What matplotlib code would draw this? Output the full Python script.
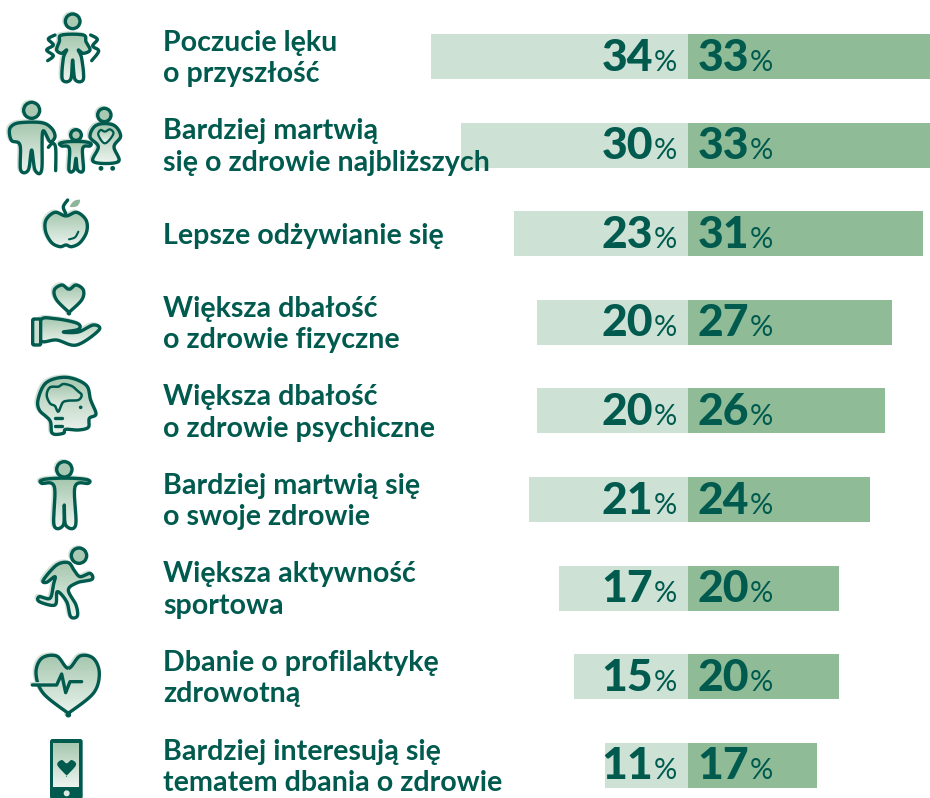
import numpy as np
import matplotlib
matplotlib.use("Agg")
import matplotlib.pyplot as plt
from matplotlib.path import Path
from matplotlib.patches import PathPatch, Circle, FancyBboxPatch

labels = ["Poczucie lęku\no przyszłość", "Bardziej martwią\nsię o zdrowie najbliższych",
          "Lepsze odżywianie się", "Większa dbałość\no zdrowie fizyczne",
          "Większa dbałość\no zdrowie psychiczne", "Bardziej martwią się\no swoje zdrowie",
          "Większa aktywność\nsportowa", "Dbanie o profilaktykę\nzdrowotną",
          "Bardziej interesują się\ntematem dbania o zdrowie"]
left_values = [34, 30, 23, 20, 20, 21, 17, 15, 11]
right_values = [33, 33, 31, 27, 26, 24, 20, 20, 17]

DARK = "#005A4E"
LIGHT_BAR = "#CDE1D4"
MID_BAR = "#90BB97"
SHADOW = "#CFE1D5"
W, H = 930, 798
UNIT = 7.57
ROW0, ROWSTEP = 56.5, 88.6

fig = plt.figure(figsize=(W / 100, H / 100), dpi=100, facecolor="white")
ax = fig.add_axes([0, 0, 1, 1])
ax.set_xlim(-688 / UNIT, (W - 688) / UNIT)
ax.set_ylim((H - ROW0) / ROWSTEP, -ROW0 / ROWSTEP)
ax.axis("off")
rows = np.arange(len(labels))
ax.barh(rows, [-v for v in left_values], height=45 / ROWSTEP, color=LIGHT_BAR, lw=0)
ax.barh(rows, right_values, height=45 / ROWSTEP, color=MID_BAR, lw=0)

for i, (lab, l, r) in enumerate(zip(labels, left_values, right_values)):
    ax.annotate(lab, (0, i), xytext=(163 - 688, -2), textcoords="offset pixels", ha="left", va="center",
                color=DARK, family="Lato", weight="bold", fontsize=20.6, linespacing=1.25)
    for v, xn, xp in ((l, -35, -34), (r, 61, 62)):
        ax.annotate(str(v), (0, i), xytext=(xn, -14), textcoords="offset pixels", ha="right", va="baseline",
                    color=DARK, family="Lato", weight=900, fontsize=32)
        ax.annotate("%", (0, i), xytext=(xp, -14), textcoords="offset pixels", ha="left", va="baseline",
                    color=DARK, family="Lato", weight="normal", fontsize=21)

# --- decorative pictograms, in a pixel-space overlay (coordinates from 3x crops) ---
ov = fig.add_axes([0, 0, 1, 1], facecolor="none")
ov.set_xlim(0, W)
ov.set_ylim(H, 0)
ov.axis("off")
grad = np.linspace(0, 1, 64).reshape(-1, 1)
cmap = matplotlib.colors.LinearSegmentedColormap.from_list("g", ["#A5C7AE", "#EDF4EF"])
LW = 2.4


def smooth(pts, closed=True, n=10):
    p = np.asarray(pts, float)
    if closed:
        p = np.vstack([p[-1], p, p[0], p[1]])
    else:
        p = np.vstack([p[0], p, p[-1]])
    out = []
    for i in range(1, len(p) - 2):
        p0, p1, p2, p3 = p[i - 1], p[i], p[i + 1], p[i + 2]
        for t in np.linspace(0, 1, n, endpoint=False):
            out.append(0.5 * (2 * p1 + (p2 - p0) * t + (2 * p0 - 5 * p1 + 4 * p2 - p3) * t ** 2
                              + (3 * p1 - p0 - 3 * p2 + p3) * t ** 3))
    out.append(p[len(p) - 2])
    return np.array(out)


def z(pts, yo=0):
    return [(x / 3, y / 3 + yo) for x, y in pts]


def shape(pts, yo=0, lw=LW, shadow=True):
    v = smooth(z(pts, yo))
    if shadow:
        ov.add_patch(PathPatch(Path(v + [-1.6, -1.2]), fc=SHADOW, ec=SHADOW, lw=lw, zorder=3))
    pp = PathPatch(Path(v), fc="none", ec="none", zorder=4)
    ov.add_patch(pp)
    x0, x1, y0, y1 = v[:, 0].min(), v[:, 0].max(), v[:, 1].min(), v[:, 1].max()
    im = ov.imshow(grad, extent=(x0, x1, y1, y0), cmap=cmap, aspect="auto", zorder=4)
    im.set_clip_path(pp)
    ov.add_patch(PathPatch(Path(v), fc="none", ec=DARK, lw=lw, joinstyle="round", zorder=5))


def line(pts, yo=0, lw=LW, c=DARK, sm=True):
    v = smooth(z(pts, yo), closed=False) if sm else np.array(z(pts, yo))
    ov.plot(v[:, 0], v[:, 1], color=c, lw=lw, solid_capstyle="round", solid_joinstyle="round", zorder=6)


def head(x, y, r, yo=0, lw=LW):
    xc, yc, rc = x / 3, y / 3 + yo, r / 3
    ov.add_patch(Circle((xc - 1.5, yc - 1), rc, fc=SHADOW, ec=SHADOW, lw=lw, zorder=3))
    ov.add_patch(Circle((xc, yc), rc, fc="#A9C9B2", ec=DARK, lw=lw, zorder=5))


# 1 anxious person
head(218, 64, 22)
shape([(185, 105), (250, 105), (258, 125), (270, 150), (250, 160), (235, 150), (245, 175), (250, 238), (225, 238),
       (218, 180), (212, 238), (187, 238), (190, 175), (200, 150), (185, 160), (170, 150), (178, 125)])
line([(165, 105), (145, 117), (160, 135), (140, 150), (160, 167), (143, 182)])
line([(272, 105), (292, 118), (278, 138), (296, 153), (275, 182)])
# 2 family
head(95, 331, 24)
shape([(60, 368), (125, 368), (155, 385), (165, 410), (150, 425), (128, 395), (125, 510), (105, 510), (95, 450),
       (85, 510), (62, 510), (60, 435), (35, 422), (28, 395), (35, 378)])
line([(145, 442), (158, 430), (167, 445), (167, 512)])
head(228, 405, 16)
shape([(205, 425), (250, 425), (272, 430), (270, 438), (248, 445), (250, 510), (233, 510), (228, 475), (222, 510),
       (207, 510), (208, 445), (185, 438), (180, 430)])
head(313, 345, 20)
shape([(290, 375), (340, 375), (362, 408), (342, 440), (355, 485), (280, 485), (295, 440), (270, 410)])
shape([(315, 395), (330, 388), (340, 402), (315, 430), (295, 405), (302, 390)], shadow=False, lw=1.6)
for fx in (303, 338):
    ov.add_patch(Circle((fx / 3, 505 / 3), 2.4, fc=DARK, ec="none", zorder=6))
# 3 apple
shape([(198, 648), (230, 637), (258, 660), (260, 695), (240, 728), (215, 740), (198, 735), (180, 740), (155, 728),
       (137, 695), (138, 660), (165, 637)])
line([(197, 640), (190, 620), (203, 600)])
ov.add_patch(PathPatch(Path(smooth(z([(210, 620), (222, 603), (240, 600), (232, 618)]))), fc="#8DB59B", ec="none", zorder=5))
line([(207, 718), (225, 712), (235, 695)], lw=1.5)
# 4 heart in hand
shape([(207, 58), (228, 45), (250, 60), (245, 90), (207, 127), (207, 127), (170, 90), (163, 60), (186, 45)], 270)
shape([(122, 150), (165, 146), (232, 160), (235, 178), (190, 186), (235, 186), (280, 165), (297, 180), (230, 225),
       (170, 210), (122, 212)], 270)
ov.add_patch(FancyBboxPatch((98 / 3, 270 + 147 / 3), 24 / 3, 78 / 3, boxstyle="round,pad=0,rounding_size=1.5",
                            fc="#C9DDCF", ec=DARK, lw=LW, zorder=6))
# 5 head / brain
shape([(115, 385), (140, 337), (200, 322), (258, 345), (272, 390), (288, 432), (268, 445), (265, 472), (235, 480),
       (197, 478), (190, 490), (157, 490), (150, 452), (118, 420)], 270)
shape([(140, 375), (150, 352), (175, 350), (190, 342), (215, 348), (232, 362), (245, 375), (235, 390), (205, 392),
       (188, 398), (175, 425), (165, 408), (150, 400)], 270, shadow=False, lw=1.8)
ov.add_patch(Circle((242 / 3, 270 + 412 / 3), 1.8, fc=DARK, ec="none", zorder=6))
line([(165, 445), (187, 445)], 270, sm=False)
line([(165, 468), (187, 468)], 270, sm=False)
# 6 person arms out
head(193, 598, 23, 270)
shape([(125, 630), (165, 625), (225, 625), (265, 630), (265, 640), (225, 650), (227, 765), (197, 765), (193, 705),
       (190, 765), (162, 765), (163, 650), (125, 640)], 270)
# 7 runner
head(237, 77, 23, 530)
shape([(130, 150), (170, 105), (205, 98), (222, 120), (240, 140), (270, 130), (276, 148), (232, 158), (205, 180),
       (228, 225), (232, 258), (212, 260), (200, 215), (172, 185), (165, 225), (118, 215), (118, 200), (150, 205),
       (160, 165), (165, 140), (140, 157)], 530)
# 8 heart with pulse
shape([(205, 415), (240, 378), (280, 385), (298, 430), (280, 490), (205, 550), (205, 550), (130, 490), (108, 430),
       (125, 385), (170, 378)], 530)
ov.plot([92 / 3, 165 / 3], [530 + 458 / 3] * 2, color=SHADOW, lw=2, zorder=5)
line([(97, 465), (170, 465), (185, 432), (197, 488), (210, 455), (245, 455)], 530, sm=False)
# 9 phone
ov.add_patch(FancyBboxPatch((150 / 3, 530 + 627 / 3), 98 / 3, 180 / 3, boxstyle="round,pad=0,rounding_size=2.5",
                            fc=DARK, ec="none", zorder=4))
scr = PathPatch(Path([(160 / 3, 530 + 638 / 3), (238 / 3, 530 + 638 / 3), (238 / 3, 530 + 770 / 3),
                      (160 / 3, 530 + 770 / 3), (160 / 3, 530 + 638 / 3)]), fc="none", ec="none", zorder=5)
ov.add_patch(scr)
im = ov.imshow(grad, extent=(160 / 3, 238 / 3, 530 + 770 / 3, 530 + 638 / 3), cmap=cmap, aspect="auto", zorder=5)
im.set_clip_path(scr)
hv = smooth(z([(200, 700), (215, 690), (228, 705), (200, 737), (200, 737), (172, 705), (185, 690)], 530))
ov.add_patch(PathPatch(Path(hv), fc=DARK, ec="none", zorder=6))
ov.add_patch(Circle((200 / 3, 530 + 790 / 3), 3, fc="#DCE9E0", ec="none", zorder=6))
ov.set_xlim(0, W)
ov.set_ylim(H, 0)

fig.savefig("out.png", dpi=100)
